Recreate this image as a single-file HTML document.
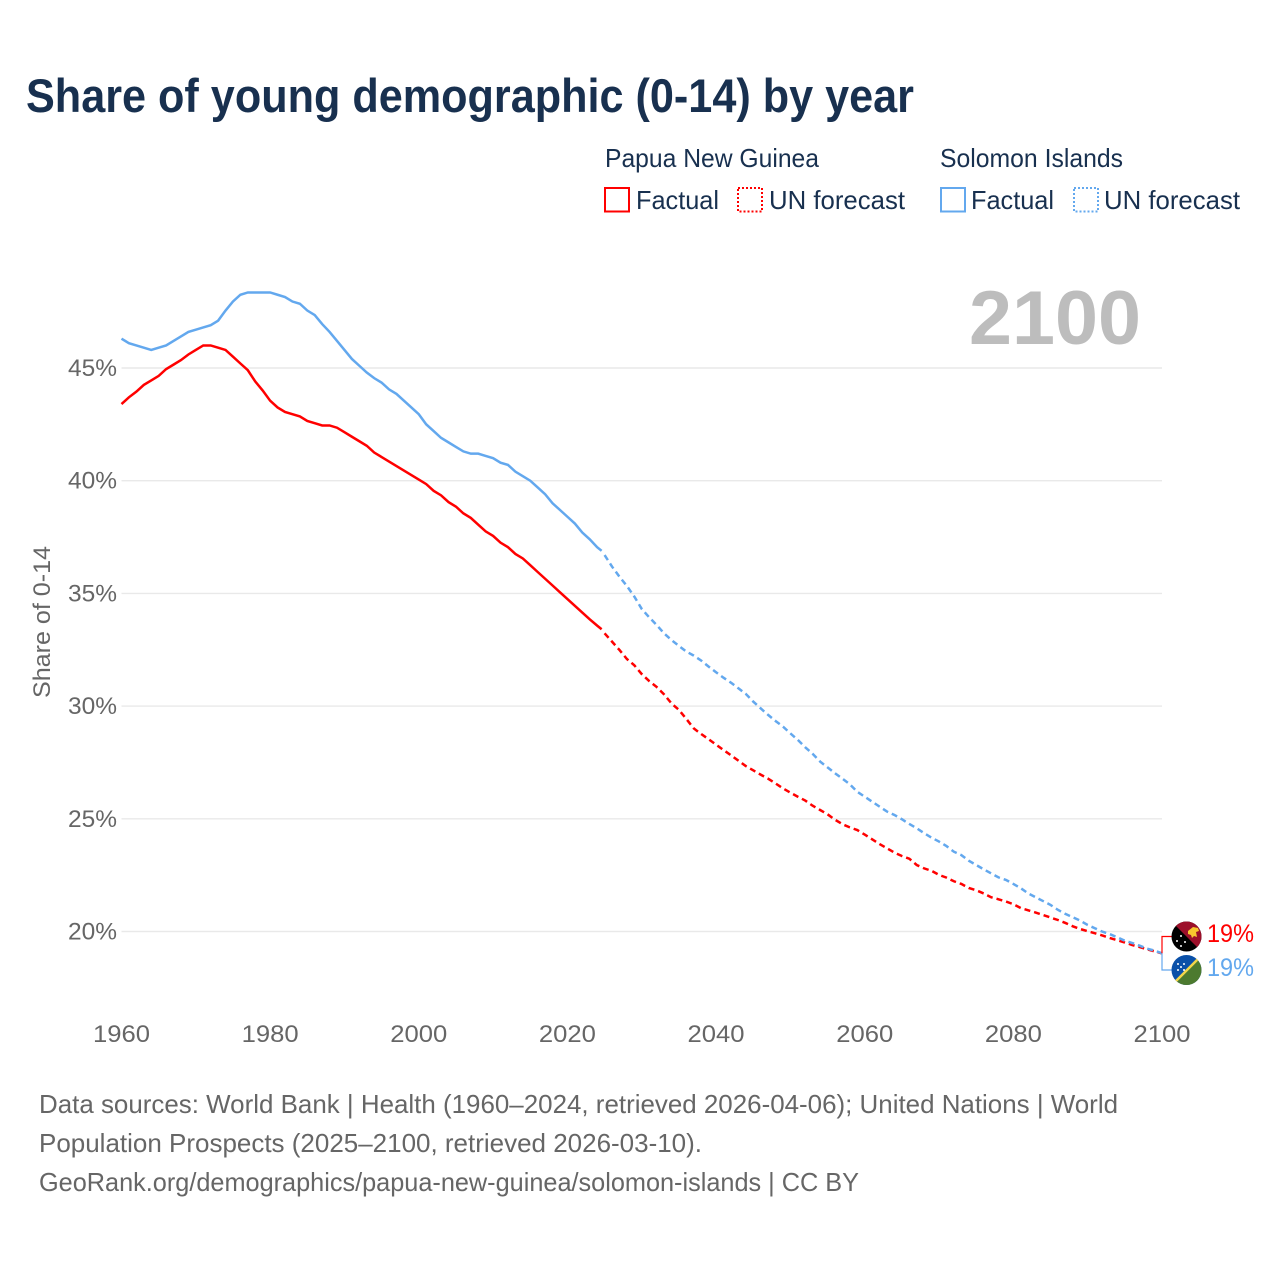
<!DOCTYPE html>
<html lang="en">
<head>
<meta charset="utf-8">
<title>Share of young demographic (0-14) by year</title>
<style>
html,body{margin:0;padding:0;background:#fff;}
svg{display:block;font-family:"Liberation Sans",sans-serif;}
</style>
</head>
<body>
<svg id="chart" width="1280" height="1280" viewBox="0 0 1280 1280" xmlns="http://www.w3.org/2000/svg">
  <defs>
    <clipPath id="clip-flag-png"><circle cx="1186.5" cy="936.5" r="15"/></clipPath>
    <clipPath id="clip-flag-si"><circle cx="1186.5" cy="970" r="15"/></clipPath>
  </defs>
  <rect x="0" y="0" width="1280" height="1280" fill="#fff"/>
  <text x="26" y="112" font-size="47" font-weight="700" fill="#18304f" textLength="888" lengthAdjust="spacingAndGlyphs">Share of young demographic (0-14) by year</text>

  <g font-size="26" fill="#18304f">
    <text x="605" y="167" textLength="214" lengthAdjust="spacingAndGlyphs">Papua New Guinea</text>
    <text x="940" y="167" textLength="183" lengthAdjust="spacingAndGlyphs">Solomon Islands</text>
    <g>
      <rect x="605" y="188" width="24" height="23.5" fill="none" stroke="#ff0000" stroke-width="2"/>
      <text x="636" y="209" textLength="83" lengthAdjust="spacingAndGlyphs">Factual</text>
    </g>
    <g>
      <rect x="738" y="188" width="24" height="23.5" fill="none" stroke="#ff0000" stroke-width="2" stroke-dasharray="2 2"/>
      <text x="769" y="209" textLength="136" lengthAdjust="spacingAndGlyphs">UN forecast</text>
    </g>
    <g>
      <rect x="941" y="188" width="24" height="23.5" fill="none" stroke="#63a8ee" stroke-width="2"/>
      <text x="971" y="209" textLength="83" lengthAdjust="spacingAndGlyphs">Factual</text>
    </g>
    <g>
      <rect x="1074" y="188" width="24" height="23.5" fill="none" stroke="#63a8ee" stroke-width="2" stroke-dasharray="2 2"/>
      <text x="1104" y="209" textLength="136" lengthAdjust="spacingAndGlyphs">UN forecast</text>
    </g>
  </g>

  <text x="969" y="344" font-size="76" font-weight="700" fill="#bdbdbd" textLength="172" lengthAdjust="spacingAndGlyphs">2100</text>
  <text transform="translate(50,698) rotate(-90)" x="0" y="0" font-size="24" fill="#666" textLength="152" lengthAdjust="spacingAndGlyphs">Share of 0-14</text>

  <g id="grid"></g>
  <g id="y-ticks"></g>
  <g id="x-ticks"></g>
  <g id="series"></g>

  <path id="bracket-png" fill="none" stroke="#ff0000" stroke-width="1.2"/>
  <path id="bracket-si" fill="none" stroke="#63a8ee" stroke-width="1.2"/>

  <g clip-path="url(#clip-flag-png)">
    <rect x="1170" y="920" width="34" height="34" fill="#000"/>
    <path d="M1171 921 L1203 921 L1203 953 Z" fill="#9c0f2a"/>
    <path d="M1188 931 l5 -4 l5 1 l1 3 l-3 1 l1 5 l-3 -1 l-2 2 l-1 -3 l-3 -1 z" fill="#f7c72e"/>
    <circle cx="1181" cy="936" r="1" fill="#fff"/>
    <circle cx="1177" cy="941" r="1" fill="#fff"/>
    <circle cx="1185" cy="942" r="1" fill="#fff"/>
    <circle cx="1181" cy="946" r="1" fill="#fff"/>
  </g>
  <g clip-path="url(#clip-flag-si)">
    <rect x="1170" y="953" width="34" height="34" fill="#0a50a8"/>
    <path d="M1170 986 L1204 953 L1204 987 Z" fill="#4c7a2f"/>
    <path d="M1171 986 L1203 954" stroke="#f2d64a" stroke-width="2.5" fill="none"/>
    <circle cx="1178" cy="964" r="1" fill="#fff"/>
    <circle cx="1184" cy="964" r="1" fill="#fff"/>
    <circle cx="1181" cy="967" r="1" fill="#fff"/>
    <circle cx="1178" cy="970" r="1" fill="#fff"/>
    <circle cx="1184" cy="970" r="1" fill="#fff"/>
  </g>

  <text id="end-value-png" x="1207" y="942" font-size="25" fill="#ff0000" textLength="47" lengthAdjust="spacingAndGlyphs">19%</text>
  <text id="end-value-si" x="1207" y="976" font-size="25" fill="#63a8ee" textLength="47" lengthAdjust="spacingAndGlyphs">19%</text>

  <g font-size="26" fill="#666">
    <text x="39" y="1113" textLength="1079" lengthAdjust="spacingAndGlyphs">Data sources: World Bank | Health (1960–2024, retrieved 2026-04-06); United Nations | World</text>
    <text x="39" y="1152" textLength="663" lengthAdjust="spacingAndGlyphs">Population Prospects (2025–2100, retrieved 2026-03-10).</text>
    <text x="39" y="1191" textLength="820" lengthAdjust="spacingAndGlyphs">GeoRank.org/demographics/papua-new-guinea/solomon-islands | CC BY</text>
  </g>
</svg>
<script>
const yTickValues = [20, 25, 30, 35, 40, 45];
const xTickValues = [1960, 1980, 2000, 2020, 2040, 2060, 2080, 2100];

const factualStartYear = 1960;
const forecastStartYear = 2025;
const lastFactualYear = 2024.6;

const pngFactual = [43.4,43.7,43.95,44.25,44.45,44.65,44.95,45.15,45.35,45.6,45.8,46.0,46.0,45.9,45.8,45.5,45.2,44.9,44.4,44.0,43.55,43.25,43.05,42.95,42.85,42.65,42.55,42.45,42.45,42.35,42.15,41.95,41.75,41.55,41.25,41.05,40.85,40.65,40.45,40.25,40.05,39.85,39.55,39.35,39.05,38.85,38.55,38.35,38.05,37.75,37.55,37.25,37.05,36.75,36.55,36.25,35.95,35.65,35.35,35.05,34.75,34.45,34.15,33.85,33.57,33.41];

const siFactual = [46.3,46.1,46.0,45.9,45.8,45.9,46.0,46.2,46.4,46.6,46.7,46.8,46.9,47.1,47.55,47.95,48.25,48.35,48.35,48.35,48.35,48.25,48.15,47.95,47.85,47.55,47.35,46.95,46.6,46.2,45.8,45.4,45.1,44.8,44.55,44.35,44.05,43.85,43.55,43.25,42.95,42.5,42.2,41.9,41.7,41.5,41.3,41.2,41.2,41.1,41.0,40.8,40.7,40.4,40.2,40.0,39.7,39.4,39.0,38.7,38.4,38.1,37.7,37.4,37.05,36.89];

const pngForecast = [33.23,32.86,32.49,32.09,31.81,31.42,31.11,30.85,30.52,30.12,29.83,29.43,29.01,28.76,28.53,28.29,28.05,27.82,27.58,27.34,27.15,26.96,26.78,26.57,26.35,26.16,25.98,25.81,25.58,25.39,25.2,24.96,24.76,24.62,24.5,24.3,24.09,23.88,23.69,23.5,23.35,23.23,22.95,22.8,22.69,22.51,22.39,22.23,22.11,21.93,21.83,21.69,21.52,21.43,21.33,21.21,21.04,20.94,20.84,20.73,20.62,20.51,20.38,20.23,20.11,20.01,19.92,19.82,19.71,19.61,19.51,19.4,19.31,19.21,19.12,19.03];

const siForecast = [36.7,36.19,35.74,35.33,34.86,34.31,33.94,33.6,33.23,32.93,32.67,32.42,32.24,32.02,31.75,31.5,31.26,31.04,30.79,30.54,30.2,29.9,29.61,29.34,29.09,28.79,28.5,28.17,27.88,27.54,27.28,27.02,26.78,26.53,26.2,25.98,25.76,25.54,25.32,25.17,24.98,24.77,24.58,24.36,24.16,23.99,23.79,23.54,23.39,23.14,22.95,22.76,22.58,22.4,22.29,22.11,21.92,21.69,21.52,21.35,21.18,20.96,20.78,20.63,20.48,20.29,20.14,19.99,19.88,19.74,19.59,19.49,19.37,19.24,19.15,19.03];

const SVG_NS = 'http://www.w3.org/2000/svg';
function xScale(year) { return 121.5 + (year - 1960) * (1162 - 121.5) / 140; }
function yScale(value) { return 931.5 - (value - 20) * 22.54; }

const gridGroup = document.getElementById('grid');
const yTickGroup = document.getElementById('y-ticks');
yTickValues.forEach(function (v) {
  const line = document.createElementNS(SVG_NS, 'line');
  
  
  line.setAttribute('x1', xScale(1960));
  line.setAttribute('x2', xScale(2100));
  line.setAttribute('y1', yScale(v));
  line.setAttribute('y2', yScale(v));
  line.setAttribute('stroke', '#e9e9e9');
  line.setAttribute('stroke-width', '1.4');
  gridGroup.appendChild(line);
  const label = document.createElementNS(SVG_NS, 'text');
  
  
  label.setAttribute('x', 117);
  label.setAttribute('y', yScale(v) + 8);
  label.setAttribute('text-anchor', 'end');
  label.setAttribute('font-size', '24');
  label.setAttribute('fill', '#666');
  label.setAttribute('textLength', '49');
  label.setAttribute('lengthAdjust', 'spacingAndGlyphs');
  label.textContent = v + '%';
  yTickGroup.appendChild(label);
});

const xTickGroup = document.getElementById('x-ticks');
xTickValues.forEach(function (year) {
  const label = document.createElementNS(SVG_NS, 'text');
  
  
  label.setAttribute('x', xScale(year));
  label.setAttribute('y', 1042);
  label.setAttribute('text-anchor', 'middle');
  label.setAttribute('font-size', '24');
  label.setAttribute('fill', '#666');
  label.setAttribute('textLength', '57');
  label.setAttribute('lengthAdjust', 'spacingAndGlyphs');
  label.textContent = year;
  xTickGroup.appendChild(label);
});

function factualYear(i) { return Math.min(factualStartYear + i, lastFactualYear); }
function forecastYear(i) { return forecastStartYear + i; }
function buildPath(values, yearOf) {
  return values.map(function (v, i) {
    return (i ? 'L' : 'M') + xScale(yearOf(i)).toFixed(2) + ' ' + yScale(v).toFixed(2);
  }).join(' ');
}

const seriesGroup = document.getElementById('series');

const pngFactualLine = document.createElementNS(SVG_NS, 'path');


pngFactualLine.setAttribute('d', buildPath(pngFactual, factualYear));
pngFactualLine.setAttribute('fill', 'none');
pngFactualLine.setAttribute('stroke', '#ff0000');
pngFactualLine.setAttribute('stroke-width', '2.5');
seriesGroup.appendChild(pngFactualLine);

const pngForecastLine = document.createElementNS(SVG_NS, 'path');


pngForecastLine.setAttribute('d', buildPath(pngForecast, forecastYear));
pngForecastLine.setAttribute('fill', 'none');
pngForecastLine.setAttribute('stroke', '#ff0000');
pngForecastLine.setAttribute('stroke-width', '2.5');
pngForecastLine.setAttribute('stroke-dasharray', '6 4');
seriesGroup.appendChild(pngForecastLine);

const siFactualLine = document.createElementNS(SVG_NS, 'path');


siFactualLine.setAttribute('d', buildPath(siFactual, factualYear));
siFactualLine.setAttribute('fill', 'none');
siFactualLine.setAttribute('stroke', '#63a8ee');
siFactualLine.setAttribute('stroke-width', '2.5');
seriesGroup.appendChild(siFactualLine);

const siForecastLine = document.createElementNS(SVG_NS, 'path');


siForecastLine.setAttribute('d', buildPath(siForecast, forecastYear));
siForecastLine.setAttribute('fill', 'none');
siForecastLine.setAttribute('stroke', '#63a8ee');
siForecastLine.setAttribute('stroke-width', '2.5');
siForecastLine.setAttribute('stroke-dasharray', '6 4');
seriesGroup.appendChild(siForecastLine);

const endX = xScale(2100);
document.getElementById('bracket-png').setAttribute('d',
  'M' + endX + ' ' + yScale(pngForecast[pngForecast.length - 1]) + ' V936.5 H1172');
document.getElementById('bracket-si').setAttribute('d',
  'M' + endX + ' ' + yScale(siForecast[siForecast.length - 1]) + ' V970 H1172');
</script>
</body>
</html>
